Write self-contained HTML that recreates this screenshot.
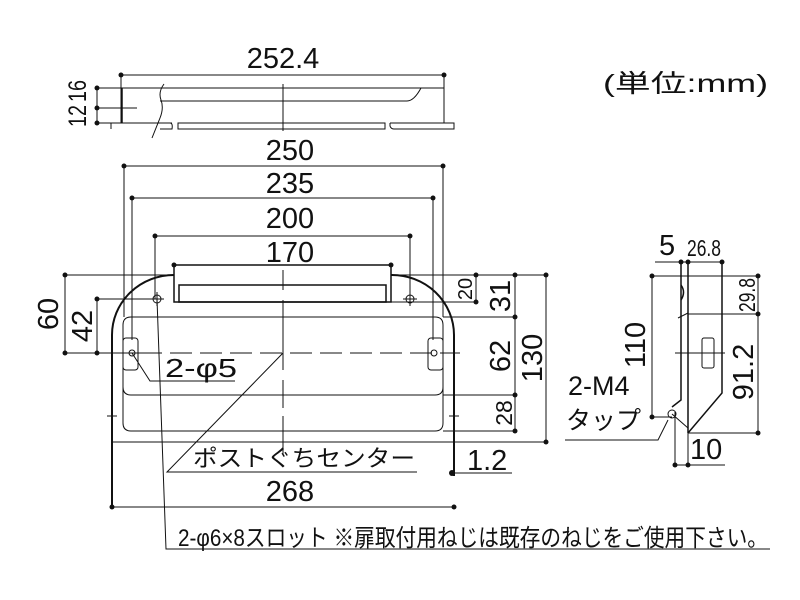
<!DOCTYPE html>
<html><head><meta charset="utf-8"><style>
html,body{margin:0;padding:0;background:#fff}
svg{display:block}
text{font-family:"Liberation Sans","Noto Sans CJK JP",sans-serif;fill:#111}
</style></head><body>
<svg width="800" height="600" viewBox="0 0 800 600" xmlns="http://www.w3.org/2000/svg">
<g stroke="#111" stroke-width="1" fill="none">
<line x1="121" y1="75" x2="444" y2="75"/>
<line x1="121" y1="75" x2="121" y2="123"/>
<line x1="444" y1="75" x2="444" y2="123"/>
<line x1="97" y1="88" x2="444" y2="88"/>
<path d="M160 101 H407 Q414 101 421 88"/>
<line x1="97" y1="88" x2="97" y2="123"/>
<line x1="97" y1="108" x2="137" y2="108"/>
<line x1="97" y1="123" x2="172" y2="123"/>
<line x1="122" y1="88" x2="122" y2="123" stroke-width="1.5"/>
<path d="M111 129 V123"/>
<path d="M162 123 H170 Q173 123 172 129 H160"/>
<rect x="178" y="123" width="207" height="6"/>
<path d="M390 123 V126 Q391 129 394 129 H454 V123 H390"/>
<path d="M164 84 Q158 92 161 100 Q164 108 160 118 Q156 128 152 138" stroke="#111"/>
<line x1="283" y1="84" x2="283" y2="131"/>
<line x1="124" y1="166" x2="443" y2="166"/>
<line x1="124" y1="166" x2="124" y2="317"/>
<line x1="443" y1="166" x2="443" y2="317"/>
<line x1="132" y1="198" x2="433" y2="198"/>
<line x1="132" y1="198" x2="132" y2="340"/>
<line x1="433" y1="198" x2="433" y2="340"/>
<line x1="155" y1="236" x2="410" y2="236"/>
<line x1="155" y1="236" x2="155" y2="299"/>
<line x1="410" y1="236" x2="410" y2="299"/>
<line x1="174" y1="265" x2="391" y2="265"/>
<line x1="65" y1="275" x2="174" y2="275"/>
<line x1="391" y1="275" x2="547" y2="275"/>
<line x1="65" y1="275" x2="65" y2="353"/>
<line x1="97" y1="299" x2="157" y2="299"/>
<line x1="97" y1="299" x2="97" y2="353"/>
<line x1="65" y1="353" x2="140" y2="353"/>
<path d="M140 353 H460" stroke-dasharray="22 8"/>
<line x1="283" y1="270" x2="283" y2="290"/>
<line x1="283" y1="300" x2="283" y2="370"/>
<line x1="283" y1="380" x2="283" y2="408"/>
<line x1="283" y1="416" x2="283" y2="455"/>
<path d="M112 508 V335 A62 60 0 0 1 174 275" stroke-width="2"/>
<path d="M391 275 A62 60 0 0 1 454 335 V476" stroke-width="2"/>
<line x1="112" y1="442" x2="547" y2="442"/>
<rect x="174" y="265" width="217" height="37" stroke-width="1.5"/>
<rect x="179" y="285" width="207" height="17" stroke-width="1.5"/>
<circle cx="157" cy="299" r="4"/><line x1="150" y1="299" x2="164" y2="299"/><line x1="157" y1="292" x2="157" y2="306"/>
<circle cx="410" cy="299" r="4"/><line x1="403" y1="299" x2="417" y2="299"/><line x1="410" y1="292" x2="410" y2="306"/>
<path d="M131 317 H435 Q443 317 443 325 V423 Q443 431 435 431 H131 Q123 431 123 423 V325 Q123 317 131 317 Z"/>
<path d="M123 387 Q123 395 131 395 H435 Q443 395 443 387"/>
<line x1="443" y1="317" x2="517" y2="317"/>
<line x1="443" y1="395" x2="517" y2="395"/>
<line x1="443" y1="431" x2="517" y2="431"/>
<line x1="391" y1="302" x2="478" y2="302"/>
<rect x="123" y="338" width="15" height="32" rx="3"/>
<circle cx="132" cy="353" r="3"/>
<rect x="428" y="338" width="15" height="32" rx="3"/>
<circle cx="434" cy="353" r="3"/>
<line x1="107" y1="416" x2="117" y2="416"/><line x1="449" y1="416" x2="459" y2="416"/>
<line x1="476" y1="275" x2="476" y2="302"/>
<line x1="515" y1="275" x2="515" y2="431"/>
<line x1="546" y1="275" x2="546" y2="442"/>
<path d="M132 353 L150 381 H235"/>
<path d="M283 353 L167 472 H417"/>
<line x1="452" y1="473" x2="512" y2="473"/>
<line x1="112" y1="507" x2="454" y2="507"/>
<path d="M157 299 L166 549 H770"/>
<line x1="655" y1="262" x2="722" y2="262"/>
<line x1="652" y1="276" x2="759" y2="276"/>
<line x1="652" y1="276" x2="652" y2="417"/>
<line x1="652" y1="417" x2="672" y2="417"/>
<line x1="688" y1="314" x2="759" y2="314"/>
<line x1="758" y1="276" x2="758" y2="433"/>
<line x1="688" y1="433" x2="759" y2="433"/>
<path d="M681 262 V400 L672 407" stroke-width="1.5"/>
<path d="M688 262 V433" stroke-width="1.5"/>
<path d="M722 262 V393 L688 433" stroke-width="1.5"/>
<path d="M681 285 Q686 292 681 300" stroke-width="1.5"/>
<line x1="678" y1="318" x2="688" y2="313"/>
<rect x="702" y="338" width="12" height="30" rx="2"/>
<line x1="675" y1="353" x2="725" y2="353"/>
<circle cx="672" cy="414" r="4"/>
<path d="M672 414 L688 428"/>
<path d="M668 420 L658 440 H565"/>
<line x1="675" y1="412" x2="675" y2="465"/>
<line x1="688" y1="433" x2="688" y2="465"/>
<line x1="675" y1="465" x2="725" y2="465"/>
</g>
<g fill="#111">
<circle cx="121" cy="75" r="2.5"/><circle cx="444" cy="75" r="2.5"/>
<circle cx="97" cy="88" r="2.5"/><circle cx="97" cy="108" r="2.5"/><circle cx="97" cy="123" r="2.5"/>
<circle cx="124" cy="166" r="2.5"/><circle cx="443" cy="166" r="2.5"/>
<circle cx="132" cy="198" r="2.5"/><circle cx="433" cy="198" r="2.5"/>
<circle cx="155" cy="236" r="2.5"/><circle cx="410" cy="236" r="2.5"/>
<circle cx="174" cy="265" r="2.5"/><circle cx="391" cy="265" r="2.5"/>
<circle cx="65" cy="275" r="2.5"/><circle cx="65" cy="353" r="2.5"/>
<circle cx="97" cy="299" r="2.5"/><circle cx="97" cy="353" r="2.5"/>
<circle cx="476" cy="275" r="2.5"/><circle cx="476" cy="302" r="2.5"/>
<circle cx="515" cy="275" r="2.5"/><circle cx="515" cy="317" r="2.5"/><circle cx="515" cy="395" r="2.5"/><circle cx="515" cy="431" r="2.5"/>
<circle cx="546" cy="275" r="2.5"/><circle cx="546" cy="442" r="2.5"/>
<circle cx="452" cy="473" r="3"/>
<circle cx="112" cy="507" r="2.5"/><circle cx="454" cy="507" r="2.5"/>
<circle cx="681" cy="262" r="2.5"/><circle cx="688" cy="262" r="2.5"/><circle cx="722" cy="262" r="2.5"/>
<circle cx="652" cy="276" r="2.5"/><circle cx="652" cy="417" r="2.5"/>
<circle cx="758" cy="276" r="2.5"/><circle cx="758" cy="314" r="2.5"/><circle cx="758" cy="433" r="2.5"/>
<circle cx="675" cy="465" r="2.5"/><circle cx="688" cy="465" r="2.5"/>
</g>
<g font-size="29">
<text x="283" y="68" text-anchor="middle">252.4</text>
<text x="290" y="160" text-anchor="middle">250</text>
<text x="290" y="193" text-anchor="middle">235</text>
<text x="290" y="228" text-anchor="middle">200</text>
<text x="290" y="262" text-anchor="middle">170</text>
<text x="290" y="501" text-anchor="middle">268</text>
<text x="467" y="470">1.2</text>
<text x="690" y="459">10</text>
<text transform="translate(58 314) rotate(-90)" text-anchor="middle">60</text>
<text transform="translate(92 326) rotate(-90)" text-anchor="middle">42</text>
<text transform="translate(510 296) rotate(-90)" text-anchor="middle">31</text>
<text transform="translate(510 356) rotate(-90)" text-anchor="middle">62</text>
<text transform="translate(542 358) rotate(-90)" text-anchor="middle">130</text>
<text transform="translate(645 345) rotate(-90)" text-anchor="middle">110</text>
<text transform="translate(753 372) rotate(-90)" text-anchor="middle">91.2</text>
<text x="659" y="255">5</text>
</g>
<g font-size="23">
<text transform="translate(86 116) rotate(-90)" text-anchor="middle" font-size="25" textLength="22" lengthAdjust="spacingAndGlyphs">12</text>
<text transform="translate(86 91) rotate(-90)" text-anchor="middle" font-size="25" textLength="22" lengthAdjust="spacingAndGlyphs">16</text>
<text transform="translate(472 289) rotate(-90)" text-anchor="middle" font-size="20">20</text>
<text transform="translate(512 413) rotate(-90)" text-anchor="middle">28</text>
<text transform="translate(755 295) rotate(-90)" text-anchor="middle" textLength="34" lengthAdjust="spacingAndGlyphs">29.8</text>
<text x="687" y="256" textLength="34" lengthAdjust="spacingAndGlyphs">26.8</text>
</g>
<text x="165" y="377" font-size="26" textLength="72" lengthAdjust="spacingAndGlyphs">2-φ5</text>
<text x="193" y="466" font-size="23" textLength="222" lengthAdjust="spacingAndGlyphs">ポストぐちセンター</text>
<text x="178" y="546" font-size="24" textLength="590" lengthAdjust="spacingAndGlyphs">2-φ6×8スロット ※扉取付用ねじは既存のねじをご使用下さい。</text>
<text x="568" y="395" font-size="27">2-M4</text>
<text x="566" y="429" font-size="25">タップ</text>
<text x="603" y="92" font-size="25" textLength="165" lengthAdjust="spacingAndGlyphs">(単位:mm)</text>
</svg>
</body></html>
